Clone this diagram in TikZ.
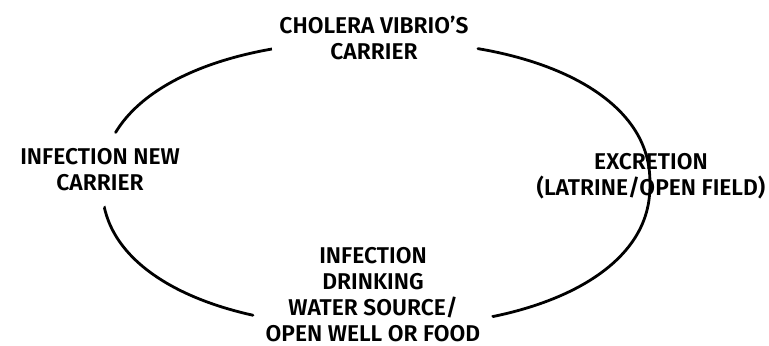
\documentclass[tikz,border=0pt]{standalone}
\usepackage{fontspec}
\setmainfont{Fira Sans}[UprightFont=* SemiBold]
\begin{document}
\begin{tikzpicture}[x=0.5pt,y=-0.5pt,
  declare function={
    sx(\t)=376+274*cos(\t)*pow(abs(cos(\t))+0.0001,-0.0909);
    sy(\t)=184+143*sin(\t)*pow(abs(sin(\t))+0.0001,-0.0909);},
  lbl/.style={align=center,inner sep=0pt,font=\fontsize{11.4}{13}\selectfont},
  cyc/.style={line width=1.4pt,line cap=round}]
\useasboundingbox (0,0) rectangle (769,346);
\node[lbl] (carrier) at (374,37.5) {CHOLERA VIBRIO'S\\CARRIER};
\node[lbl] (newc) at (100,170) {INFECTION NEW\\CARRIER};
\node[lbl] (excr) at (651,176) {EXCRETION\\(LATRINE/OPEN FIELD)};
\node[lbl] (drink) at (373,295) {INFECTION\\DRINKING\\WATER SOURCE/\\OPEN WELL OR FOOD};
% arc end points next to the labels
\coordinate (l1) at ({sx(199)},{sy(199)});
\coordinate (t1) at ({sx(249.8)},{sy(249.8)});
\coordinate (t2) at ({sx(289.7)},{sy(289.7)});
\coordinate (b2) at ({sx(426.9)},{sy(426.9)});
\coordinate (b1) at ({sx(114.5)},{sy(114.5)});
\coordinate (l2) at ({sx(172)},{sy(172)});
% newc -> carrier
\draw[cyc] (l1) -- plot[domain=199:249.8,samples=40] ({sx(\x)},{sy(\x)}) -- (t1);
% carrier -> excr -> drink
\draw[cyc] (t2) -- plot[domain=289.7:426.9,samples=90] ({sx(\x)},{sy(\x)}) -- (b2);
% drink -> newc
\draw[cyc] (b1) -- plot[domain=114.5:172,samples=40] ({sx(\x)},{sy(\x)}) -- (l2);
\end{tikzpicture}
\end{document}
